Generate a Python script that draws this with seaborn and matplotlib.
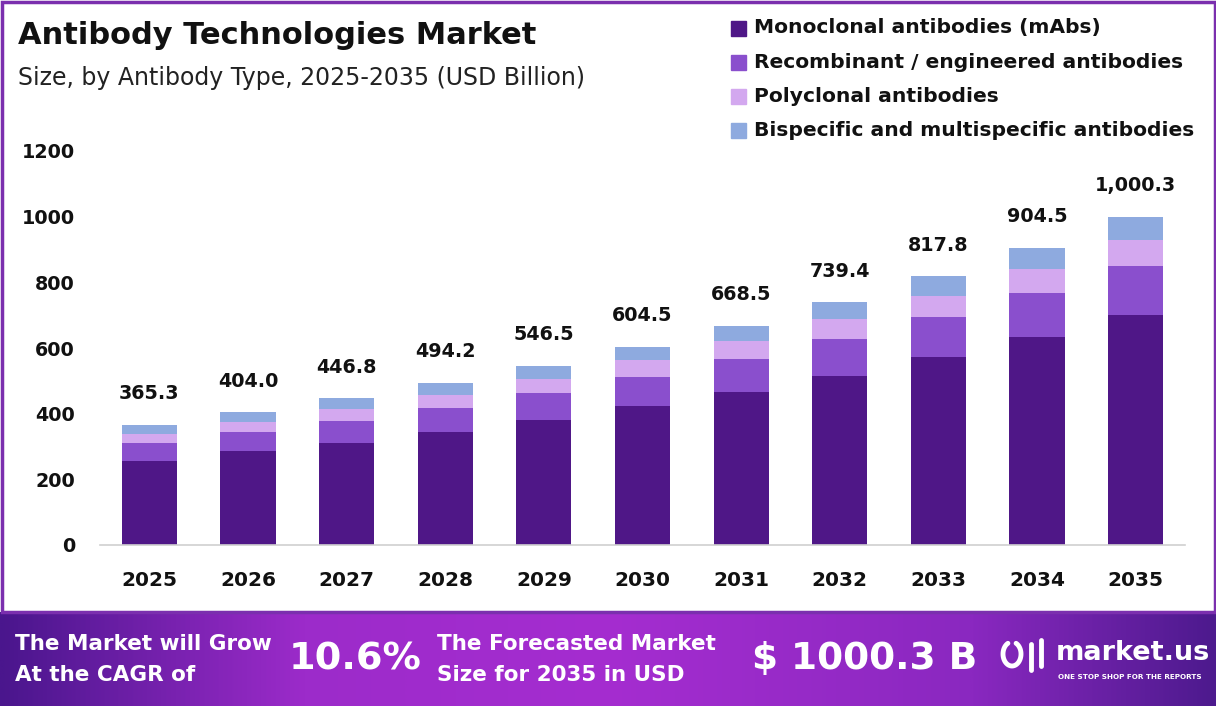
import numpy as np
import pandas as pd
import matplotlib
matplotlib.use("Agg")
import matplotlib.pyplot as plt
import seaborn as sns
from matplotlib.patches import Rectangle
from matplotlib.colors import LinearSegmentedColormap

years = ["2025", "2026", "2027", "2028", "2029", "2030", "2031", "2032", "2033", "2034", "2035"]
totals = [365.3, 404.0, 446.8, 494.2, 546.5, 604.5, 668.5, 739.4, 817.8, 904.5, 1000.3]
monoclonal = [257, 285, 311, 345, 382, 422, 467, 516, 572, 633, 699]
recombinant = [54, 58, 68, 73, 82, 91, 101, 110, 122, 133, 150]
polyclonal = [28, 33, 36, 40, 43, 49, 52, 61, 64, 75, 79]
bispecific = [t - m - r - p for t, m, r, p in zip(totals, monoclonal, recombinant, polyclonal)]
series_names = ["Monoclonal antibodies (mAbs)", "Recombinant / engineered antibodies",
                "Polyclonal antibodies", "Bispecific and multispecific antibodies"]
colors = ["#4f1787", "#8a4fcd", "#d3a8ef", "#8eaadf"]
value_labels = ["365.3", "404.0", "446.8", "494.2", "546.5", "604.5", "668.5", "739.4", "817.8", "904.5", "1,000.3"]
yticks = [0, 200, 400, 600, 800, 1000, 1200]

sns.set_theme(style="white")
FONT = ["DejaVu Sans"]
plt.rcParams["font.family"] = FONT

fig = plt.figure(figsize=(12.16, 7.06), dpi=100)
ax = fig.add_axes([100/1216, (706-545)/706, 1085/1216, 394/706])

cum = np.cumsum(np.array([monoclonal, recombinant, polyclonal, bispecific], dtype=float), axis=0)
for k in range(3, -1, -1):
    sns.barplot(x=years, y=cum[k], color=colors[k], width=0.56, saturation=1,
                ax=ax, label=series_names[k], order=years, linewidth=0)

for i, (t, lab) in enumerate(zip(totals, value_labels)):
    ax.text(i, t + 95, lab, ha="center", va="center", fontsize=13.8, fontweight="bold", color="#111111")

ax.set_xlim(-0.5, 10.5)
ax.set_ylim(0, 1200)
ax.set_yticks(yticks)
ax.set_yticklabels([str(v) for v in yticks], fontsize=13.8, fontweight="bold", color="#111111")
ax.tick_params(axis="y", length=0, pad=18)
ax.tick_params(axis="x", length=0, pad=19, labelsize=14.5, labelcolor="#111111")
for lbl in ax.get_xticklabels():
    lbl.set_fontweight("bold")
ax.set_xlabel("")
ax.set_ylabel("")
for s in ["top", "right", "left"]:
    ax.spines[s].set_visible(False)
ax.spines["bottom"].set_color("#d0d0d0")
ax.spines["bottom"].set_linewidth(1.2)
ax.grid(False)
if ax.get_legend() is not None:
    ax.get_legend().remove()

# Title and subtitle
fig.text(18/1216, 1 - 35/706, "Antibody Technologies Market", fontsize=22, fontweight="bold",
         color="#111111", va="center", ha="left")
fig.text(18/1216, 1 - 78/706, "Size, by Antibody Type, 2025-2035 (USD Billion)", fontsize=17,
         color="#222222", va="center", ha="left")

# Legend (manual)
leg_y = [28, 62, 96, 130]
for name, c, yy in zip(series_names, colors, leg_y):
    fig.patches.append(Rectangle((731/1216, 1 - (yy + 8)/706), 15/1216, 15/706,
                                 transform=fig.transFigure, color=c, figure=fig))
    fig.text(754/1216, 1 - yy/706, name, fontsize=14.6, fontweight="bold", color="#111111",
             va="center", ha="left")

# Border
fig.patches.append(Rectangle((1.5/1216, 94/706), 1213/1216, (706-95.5)/706, transform=fig.transFigure,
                             fill=False, edgecolor="#7b2fae", linewidth=2.5, figure=fig))

# Banner
bax = fig.add_axes([0, 0, 1, 94/706])
cmap = LinearSegmentedColormap.from_list(
    "ban", [(0.0, "#4a168d"), (0.25, "#9c2bca"), (0.5, "#a52dd0"), (0.8, "#8a28c0"), (1.0, "#4d1a8e")])
grad = np.linspace(0, 1, 512).reshape(1, -1)
bax.imshow(grad, aspect="auto", cmap=cmap, extent=[0, 1216, 0, 94])
bax.set_axis_off()
wc = "white"
bax.text(15, 62, "The Market will Grow", color=wc, fontsize=15.5, fontweight="bold", va="center")
bax.text(15, 31, "At the CAGR of", color=wc, fontsize=15.5, fontweight="bold", va="center")
bax.text(289, 47, "10.6%", color=wc, fontsize=27.5, fontweight="bold", va="center")
bax.text(437, 62, "The Forecasted Market", color=wc, fontsize=15.5, fontweight="bold", va="center")
bax.text(437, 31, "Size for 2035 in USD", color=wc, fontsize=15.5, fontweight="bold", va="center")
bax.text(752, 47, "$ 1000.3 B", color=wc, fontsize=27, fontweight="bold", va="center")
# logo mark drawn as a shape
t = np.linspace(0.15 * np.pi, 1.85 * np.pi, 60)
bax.plot(1012 + 9 * np.cos(t + np.pi / 2), 52 + 12 * np.sin(t + np.pi / 2), color=wc, lw=3.5,
         solid_capstyle="round")
bax.plot([1031, 1031], [36, 62], color=wc, lw=3.5, solid_capstyle="round")
bax.plot([1041, 1041], [40, 66], color=wc, lw=3.5, solid_capstyle="round")
bax.text(1056, 53, "market.us", color=wc, fontsize=19.5, fontweight="bold", va="center")
bax.text(1058, 29, "ONE STOP SHOP FOR THE REPORTS", color=wc, fontsize=5.2, fontweight="bold", va="center")
bax.set_xlim(0, 1216)
bax.set_ylim(0, 94)

fig.savefig("out.png", dpi=100)
